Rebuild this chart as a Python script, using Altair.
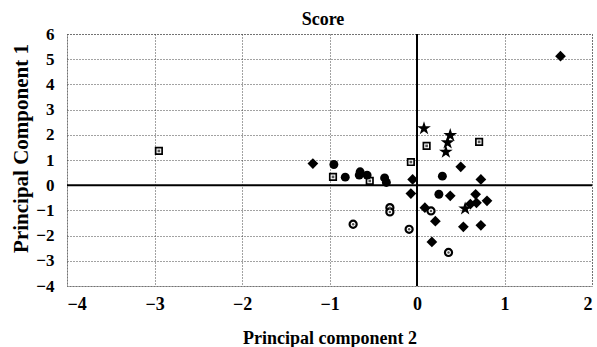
import altair as alt
import pandas as pd

# Values (x = Principal component 2, y = Principal Component 1)
diamond_x = [1.64, -1.19, -0.05, -0.07, 0.38, 0.09, 0.21, 0.17, 0.50, 0.73, 0.67, 0.68, 0.80, 0.61, 0.53, 0.73]
diamond_y = [5.12, 0.86, 0.23, -0.33, -0.42, -0.89, -1.43, -2.25, 0.73, 0.23, -0.36, -0.70, -0.62, -0.75, -1.65, -1.59]

circle_x = [-0.95, -0.82, -0.65, -0.66, -0.57, -0.37, -0.35, 0.29, 0.25]
circle_y = [0.82, 0.32, 0.53, 0.40, 0.40, 0.29, 0.11, 0.36, -0.36]

square_x = [-2.95, -0.96, -0.54, -0.07, 0.11, 0.71]
square_y = [1.36, 0.33, 0.17, 0.92, 1.56, 1.72]

ocircle_x = [-0.31, -0.31, 0.16, -0.73, -0.09, 0.36]
ocircle_y = [-0.89, -1.06, -1.02, -1.55, -1.75, -2.67]

star_x = [0.08, 0.38, 0.35, 0.33, 0.55]
star_y = [2.25, 1.98, 1.69, 1.32, -0.93]

x_ticks = [-4, -3, -2, -1, 0, 1, 2]
y_ticks = [-4, -3, -2, -1, 0, 1, 2, 3, 4, 5, 6]
chart_title = "Score"

FONT = "Liberation Serif"
STAR = ("M0,-1L0.2245,-0.309L0.951,-0.309L0.363,0.118L0.588,0.809L0,0.382"
        "L-0.588,0.809L-0.363,0.118L-0.951,-0.309L-0.2245,-0.309Z")

xs = alt.Scale(domain=[-4, 2], nice=False, zero=False)
ys = alt.Scale(domain=[-4, 6], nice=False, zero=False)

x_axis = alt.Axis(
    values=x_ticks, format="d", labelOverlap=False, title="Principal component 2", grid=True,
    domain=False, ticks=False,
    labelFont=FONT, labelFontSize=18, labelFontWeight="bold", labelColor="black", labelPadding=9,
    titleFont=FONT, titleFontSize=18, titleFontWeight="bold", titleColor="black",
    titleBaseline="alphabetic", titleY=57,
    gridColor="#444", gridDash=[1, 2], gridWidth=1)
y_axis = alt.Axis(
    values=y_ticks, format="d", labelOverlap=False, title="Principal Component 1", grid=True,
    domain=False, ticks=False,
    labelFont=FONT, labelFontSize=17, labelFontWeight="bold", labelColor="black", labelPadding=13,
    titleFont=FONT, titleFontSize=21, titleFontWeight="bold", titleColor="black",
    titleBaseline="alphabetic", titleX=-40, titleY=114, titleAngle=-90, titleAlign="center",
    gridColor="#444", gridDash=[1, 2], gridWidth=1)

XE = alt.X("x:Q", scale=xs, axis=x_axis)
YE = alt.Y("y:Q", scale=ys, axis=y_axis)

def df(xv, yv):
    return pd.DataFrame({"x": xv, "y": yv})

zero_h = alt.Chart(pd.DataFrame({"y": [0]})).mark_rule(color="black", strokeWidth=2).encode(y=YE)
zero_v = alt.Chart(pd.DataFrame({"x": [0]})).mark_rule(color="black", strokeWidth=2).encode(x=XE)

diamonds = alt.Chart(df(diamond_x, diamond_y)).mark_point(
    shape="diamond", filled=True, color="black", size=115, opacity=1).encode(x=XE, y=YE)
circles = alt.Chart(df(circle_x, circle_y)).mark_point(
    shape="circle", filled=True, color="black", size=80, opacity=1).encode(x=XE, y=YE)
squares = alt.Chart(df(square_x, square_y)).mark_point(
    shape="square", filled=True, fill="white", stroke="black", strokeWidth=1.7, size=42, opacity=1).encode(x=XE, y=YE)
squares_in = alt.Chart(df(square_x, square_y)).mark_point(
    shape="square", filled=True, color="#555", size=7, opacity=1).encode(x=XE, y=YE)
ocircles = alt.Chart(df(ocircle_x, ocircle_y)).mark_point(
    shape="circle", filled=True, fill="white", stroke="black", strokeWidth=2.2, size=50, opacity=1).encode(x=XE, y=YE)
ocircles_in = alt.Chart(df(ocircle_x, ocircle_y)).mark_point(
    shape="circle", filled=True, color="#555", size=6, opacity=1).encode(x=XE, y=YE)
stars = alt.Chart(df(star_x, star_y)).mark_point(
    shape=STAR, filled=True, color="black", size=210, opacity=1).encode(x=XE, y=YE)

title_text = alt.Chart(pd.DataFrame({"t": [chart_title]})).mark_text(
    font=FONT, fontWeight="bold", color="black", baseline="alphabetic", align="center"
).encode(text="t:N", x=alt.value(256), y=alt.value(-9), size=alt.value(18))

chart = alt.layer(zero_h, zero_v, squares, squares_in, ocircles, ocircles_in, circles, diamonds, stars,
                  title_text).properties(
    width=525, height=252,
    autosize=alt.AutoSizeParams(type="none"),
    padding={"left": 67, "top": 34, "right": 5, "bottom": 61},
    background="white",
).configure_view(stroke="#444", strokeDash=[1, 2], strokeWidth=1)

chart.save("out.html", embed_options={"renderer": "svg", "actions": False})
